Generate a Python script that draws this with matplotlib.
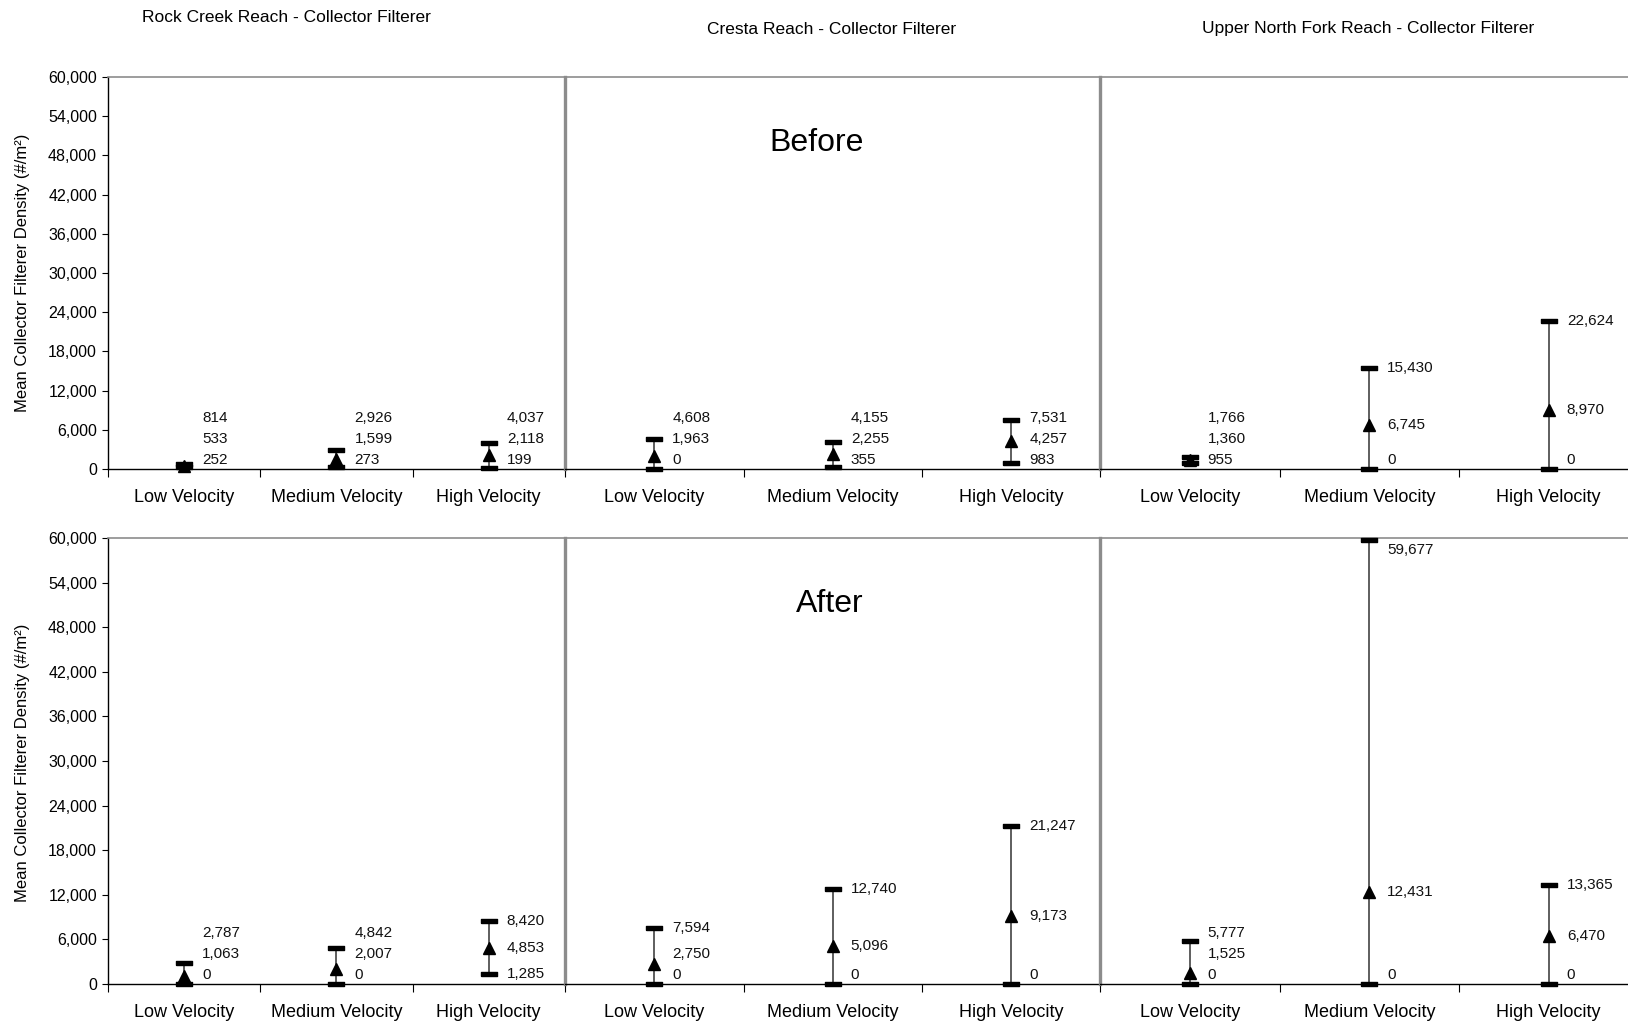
import matplotlib
matplotlib.use("Agg")
import matplotlib.pyplot as plt
from matplotlib.ticker import FuncFormatter

plt.rcParams['font.family'] = ['Liberation Sans', 'DejaVu Sans']

# mean collector filterer density (#/m2): low, mean, high per velocity class
reaches = ['Rock Creek Reach - Collector Filterer',
           'Cresta Reach - Collector Filterer',
           'Upper North Fork Reach - Collector Filterer']
velocities = ['Low Velocity', 'Medium Velocity', 'High Velocity']
periods = ['Before', 'After']

before_low = [[252, 273, 199], [0, 355, 983], [955, 0, 0]]
before_mean = [[533, 1599, 2118], [1963, 2255, 4257], [1360, 6745, 8970]]
before_high = [[814, 2926, 4037], [4608, 4155, 7531], [1766, 15430, 22624]]

after_low = [[0, 0, 1285], [0, 0, 0], [0, 0, 0]]
after_mean = [[1063, 2007, 4853], [2750, 5096, 9173], [1525, 12431, 6470]]
after_high = [[2787, 4842, 8420], [7594, 12740, 21247], [5777, 59677, 13365]]

yticks = list(range(0, 60001, 6000))

W, H = 1628, 1024
fig = plt.figure(figsize=(W / 100, H / 100), dpi=100)

def rect(x0, x1, ytop, ybot):
    return [x0 / W, 1 - ybot / H, (x1 - x0) / W, (ybot - ytop) / H]

# pixel layout of the three side by side charts (left, right, category width)
reach_px = [(108, 565, 152.3), (565, 1100, 178.5), (1100, 1640, 179.5)]
rows_px = [(77, 469), (538, 984)]

bar = [(-1, -0.3), (1, -0.3), (1, 0.3), (-1, 0.3), (-1, -0.3)]
GAP = 21  # px between stacked labels

data = [(before_low, before_mean, before_high), (after_low, after_mean, after_high)]

for r, (ytop, ybot) in enumerate(rows_px):
    lows, means, highs = data[r]
    hpx = ybot - ytop
    for k, (x0, x1, cw) in enumerate(reach_px):
        ax = fig.add_axes(rect(x0, x1, ytop, ybot), facecolor='none')
        ax.set_ylim(0, 60000)
        ax.set_xlim(-0.5, -0.5 + (x1 - x0) / cw)
        xs = range(3)
        ax.vlines(xs, lows[k], highs[k], color='#333333', lw=1.1, zorder=2)
        ax.plot(xs, highs[k], ls='none', marker=bar, ms=11.5, color='black', clip_on=False, zorder=3)
        ax.plot(xs, lows[k], ls='none', marker=bar, ms=11.5, color='black', clip_on=False, zorder=3)
        ax.plot(xs, means[k], ls='none', marker='^', ms=8, color='black', clip_on=False, zorder=4)

        for i in xs:
            lo, me, hi = lows[k][i], means[k][i], highs[k][i]
            lo_px, me_px, hi_px = [v / 60000 * hpx for v in (lo, me, hi)]
            lo_lab = max(lo_px, 9)
            me_lab = max(me_px, lo_lab + GAP)
            hi_lab = min(max(hi_px, me_lab + GAP), hpx - 12)
            for v, vp, lp in ((lo, lo_px, lo_lab), (me, me_px, me_lab), (hi, hi_px, hi_lab)):
                ax.annotate(f'{v:,}', xy=(i, v), xytext=(18, lp - vp),
                            textcoords='offset pixels', ha='left', va='center',
                            fontsize=11, color='#111111', annotation_clip=False)

        ax.spines['right'].set_visible(False)
        ax.spines['top'].set_color('#8c8c8c')
        ax.spines['top'].set_linewidth(1.2)
        ax.spines['bottom'].set_color('black')
        ax.spines['bottom'].set_linewidth(1.0)
        if k == 0:
            ax.spines['left'].set_color('black')
            ax.spines['left'].set_linewidth(1.0)
            ax.set_yticks(yticks)
            ax.yaxis.set_major_formatter(FuncFormatter(lambda v, p: f'{int(v):,}'))
            ax.tick_params(axis='y', direction='out', length=4, width=0.8, labelsize=11.5, pad=4)
        else:
            ax.spines['left'].set_color('#8c8c8c')
            ax.spines['left'].set_linewidth(2.4)
            ax.set_yticks([])

        ax.set_xticks([-0.5, 0.5, 1.5])
        ax.set_xticklabels([])
        ax.set_xticks([0, 1, 2], minor=True)
        ax.set_xticklabels(velocities, minor=True)
        ax.tick_params(axis='x', which='major', direction='out', length=6, width=0.8)
        ax.tick_params(axis='x', which='minor', length=0, pad=14.5, labelsize=13)

# reach titles
fig.text(286 / W, 1 - 18 / H, reaches[0], ha='center', va='center', fontsize=12.5)
fig.text(832 / W, 1 - 29 / H, reaches[1], ha='center', va='center', fontsize=12.5)
fig.text(1368 / W, 1 - 29 / H, reaches[2], ha='center', va='center', fontsize=12.5)

fig.text(817 / W, 1 - 143 / H, periods[0], ha='center', va='center', fontsize=23)
fig.text(830 / W, 1 - 604 / H, periods[1], ha='center', va='center', fontsize=23)

ylab = 'Mean Collector Filterer Density (#/m²)'
fig.text(23 / W, 1 - 273 / H, ylab, rotation=90, ha='center', va='center', fontsize=12)
fig.text(23 / W, 1 - 763 / H, ylab, rotation=90, ha='center', va='center', fontsize=12)

fig.savefig('out.png', dpi=100)
